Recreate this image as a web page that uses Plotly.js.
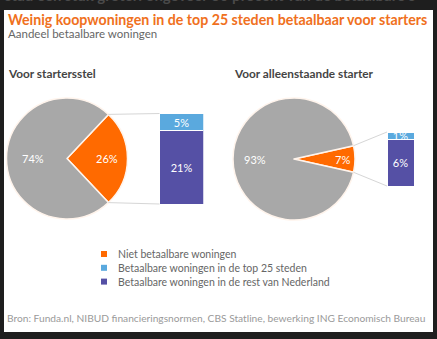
<!DOCTYPE html>
<html><head><meta charset="utf-8">
<script src="https://cdn.plot.ly/plotly-3.0.1.min.js"></script>
<style>html,body{margin:0;padding:0;background:#1e1e1e;overflow:hidden}</style>
</head><body><div id="chart" style="width:437px;height:339px"></div>
<script>
// ---- data ----
const chartTitle = "Weinig koopwoningen in de top 25 steden betaalbaar voor starters";
const chartSubtitle = "Aandeel betaalbare woningen";
const cutText = "stad een stuk groter: ongeveer 60 procent van de betaalbare s";
const panelTitles = ["Voor startersstel", "Voor alleenstaande starter"];
const sliceLabels = ["Niet betaalbare woningen", "Overige woningen"];
const stelSlices = [26, 74];
const alleenSlices = [7, 93];
const barLabels = ["Betaalbare woningen in de top 25 steden", "Betaalbare woningen in de rest van Nederland"];
const stelBars = [5, 21];
const alleenBars = [1, 6];
const legendLabels = ["Niet betaalbare woningen", "Betaalbare woningen in de top 25 steden", "Betaalbare woningen in de rest van Nederland"];
const sourceText = "Bron: Funda.nl, NIBUD financieringsnormen, CBS Statline, bewerking ING Economisch Bureau";

// ---- style ----
const W = 437, H = 339;
const ORANGE = "#ff6a00", GREY = "#a8a8a8", LBLUE = "#5aa9de", PURPLE = "#5550a5";
const FONT = "Lato, 'Open Sans', sans-serif";
const fx = x => x / W, fy = y => 1 - y / H;

const pies = [
  {vals: stelSlices, cx: 67, cy: 158.5, r: 60.5, bar: {x0: 159.5, x1: 203.5, top: 113.5, bot: 204}, bars: stelBars},
  {vals: alleenSlices, cx: 294, cy: 159, r: 61, bar: {x0: 387, x1: 414, top: 132, bot: 186}, bars: alleenBars}
];

const data = [];
const shapes = [
  {type: "rect", xref: "paper", yref: "paper", x0: fx(4), x1: fx(433), y0: fy(332), y1: fy(10),
   fillcolor: "#ffffff", line: {width: 0}, layer: "below"}
];
const annotations = [];
const layout = {
  width: W, height: H, margin: {l: 0, r: 0, t: 0, b: 0},
  paper_bgcolor: "#1e1e1e", plot_bgcolor: "rgba(0,0,0,0)",
  showlegend: false, barmode: "stack", font: {family: FONT},
  shapes, annotations
};

pies.forEach((p, i) => {
  const share = p.vals[0];
  const half = share / 100 * 180; // half angle in degrees
  data.push({
    type: "pie", values: p.vals, labels: sliceLabels, sort: false, direction: "clockwise",
    rotation: 90 - half, textinfo: "none", hoverinfo: "label+percent",
    marker: {colors: [ORANGE, GREY], line: {color: "#fff4ec", width: 1.5}},
    domain: {x: [fx(p.cx - p.r), fx(p.cx + p.r)], y: [fy(p.cy + p.r), fy(p.cy - p.r)]}
  });
  // slice labels
  const big = p.vals[1], small = p.vals[0];
  annotations.push({xref: "paper", yref: "paper", x: fx(p.cx - p.r * (i === 0 ? 0.56 : 0.64)), y: fy(p.cy),
    xanchor: "center", yanchor: "middle",
    text: big + "%", showarrow: false, font: {color: "#ffffff", size: 11, family: FONT}});
  annotations.push({xref: "paper", yref: "paper", x: fx(p.cx + p.r * (i === 0 ? 0.66 : 0.8)), y: fy(p.cy),
    xanchor: "center", yanchor: "middle",
    text: small + "%", showarrow: false, font: {color: "#ffffff", size: 11, family: FONT}});
  // bars
  const xa = i === 0 ? "x" : "x2", ya = i === 0 ? "y" : "y2";
  const total = p.bars[0] + p.bars[1];
  [[p.bars[1], PURPLE, barLabels[1]], [p.bars[0], LBLUE, barLabels[0]]].forEach(([v, c, name]) => {
    data.push({type: "bar", x: [0], y: [v], name, xaxis: xa, yaxis: ya, width: 1,
      marker: {color: c, line: {color: "#ffffff", width: 1}},
      text: [v + "%"], textposition: "inside", insidetextanchor: "middle", constraintext: "none",
      textfont: {color: "#ffffff", size: 11, family: FONT}, hoverinfo: "name+y"});
  });
  const axk = i === 0 ? "" : "2";
  layout["xaxis" + axk] = {domain: [fx(p.bar.x0), fx(p.bar.x1)], range: [-0.5, 0.5], visible: false, fixedrange: true, anchor: ya};
  layout["yaxis" + axk] = {domain: [fy(p.bar.bot), fy(p.bar.top)], range: [0, total], visible: false, fixedrange: true, anchor: xa};
  // connector lines
  const rad = half * Math.PI / 180;
  const ux = p.cx + p.r * Math.cos(rad), uy = p.cy - p.r * Math.sin(rad), ly = p.cy + p.r * Math.sin(rad);
  shapes.push({type: "line", xref: "paper", yref: "paper", x0: fx(ux), y0: fy(uy), x1: fx(p.bar.x0), y1: fy(p.bar.top), line: {color: "#d6d6d6", width: 1}});
  shapes.push({type: "line", xref: "paper", yref: "paper", x0: fx(ux), y0: fy(ly), x1: fx(p.bar.x0), y1: fy(p.bar.bot), line: {color: "#d6d6d6", width: 1}});
});

// titles
annotations.push({xref: "paper", yref: "paper", x: fx(3), y: fy(6), xanchor: "left", yanchor: "bottom",
  text: cutText, showarrow: false, font: {color: "#4a4a4a", size: 15, family: FONT, weight: 700}});
annotations.push({xref: "paper", yref: "paper", x: fx(6), y: fy(20), xanchor: "left", yanchor: "middle",
  text: chartTitle, showarrow: false, font: {color: "#f07020", size: 14.2, family: FONT, weight: 700}});
annotations.push({xref: "paper", yref: "paper", x: fx(6), y: fy(33), xanchor: "left", yanchor: "middle",
  text: chartSubtitle, showarrow: false, font: {color: "#666666", size: 11.5, family: FONT}});
annotations.push({xref: "paper", yref: "paper", x: fx(6), y: fy(74), xanchor: "left", yanchor: "middle",
  text: panelTitles[0], showarrow: false, font: {color: "#444444", size: 11.8, family: FONT, weight: 700}});
annotations.push({xref: "paper", yref: "paper", x: fx(232), y: fy(74), xanchor: "left", yanchor: "middle",
  text: panelTitles[1], showarrow: false, font: {color: "#444444", size: 11.8, family: FONT, weight: 700}});

// legend
const legColors = [ORANGE, LBLUE, PURPLE];
legendLabels.forEach((t, k) => {
  const yc = 254 + k * 13.8;
  shapes.push({type: "rect", xref: "paper", yref: "paper", x0: fx(101), x1: fx(107), y0: fy(yc + 3), y1: fy(yc - 3),
    fillcolor: legColors[k], line: {width: 0}});
  annotations.push({xref: "paper", yref: "paper", x: fx(116), y: fy(yc), xanchor: "left", yanchor: "middle",
    text: t, showarrow: false, font: {color: "#666666", size: 10.5, family: FONT}});
});

// source
annotations.push({xref: "paper", yref: "paper", x: fx(5), y: fy(318), xanchor: "left", yanchor: "middle",
  text: sourceText, showarrow: false, font: {color: "#9a9a9a", size: 10.2, family: FONT}});

Plotly.newPlot("chart", data, layout, {staticPlot: true, displayModeBar: false});
</script></body></html>
